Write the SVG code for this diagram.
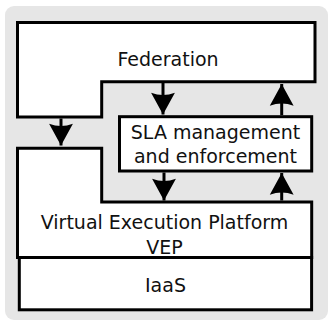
<svg xmlns="http://www.w3.org/2000/svg" width="329" height="321" viewBox="0 0 329 321">
<style>
.box{fill:#fff;stroke:#000;stroke-width:3;stroke-linejoin:miter}
.lbl{font-family:"DejaVu Sans",sans-serif;font-size:19px;fill:#111;text-anchor:middle}
.con{fill:none;stroke:#000;stroke-width:3}
</style>
<defs>
<marker id="ah" markerUnits="userSpaceOnUse" markerWidth="24" markerHeight="26" refX="0" refY="0" viewBox="-21 -12 22 24" orient="auto" overflow="visible">
<path d="M0,0 L-20,-11 Q-16,0 -20,11 Z" fill="#000"/>
</marker>
</defs>
<rect x="5" y="6" width="323" height="314" rx="9" fill="#e6e6e6"/>
<g id="federation">
<path class="box" d="M17.5,22.5 H315 V81.7 H101.7 V117 H17.5 Z"/>
<text class="lbl" x="168" y="65.5">Federation</text>
</g>
<g id="vep">
<path class="box" d="M17.5,148.3 H101.7 V202 H311.7 V257.5 H17.5 Z"/>
<text class="lbl" x="164.5" y="229.3">Virtual Execution Platform</text>
<text class="lbl" x="164.5" y="254">VEP</text>
</g>
<g id="iaas">
<rect class="box" x="19.3" y="257.5" width="292.3" height="52.3"/>
<text class="lbl" x="165.5" y="291.5">IaaS</text>
</g>
<g id="sla">
<rect class="box" x="119.5" y="116.7" width="192.2" height="54.3"/>
<text class="lbl" x="215.5" y="139">SLA management</text>
<text class="lbl" x="215.5" y="163">and enforcement</text>
</g>
<g id="connectors">
<path class="con" d="M163,83 V114.5" marker-end="url(#ah)"/>
<path class="con" d="M281.7,115.2 V84" marker-end="url(#ah)"/>
<path class="con" d="M61,118.5 V145.5" marker-end="url(#ah)"/>
<path class="con" d="M164,172.5 V200.5" marker-end="url(#ah)"/>
<path class="con" d="M281.7,200.5 V173" marker-end="url(#ah)"/>
</g>
</svg>
